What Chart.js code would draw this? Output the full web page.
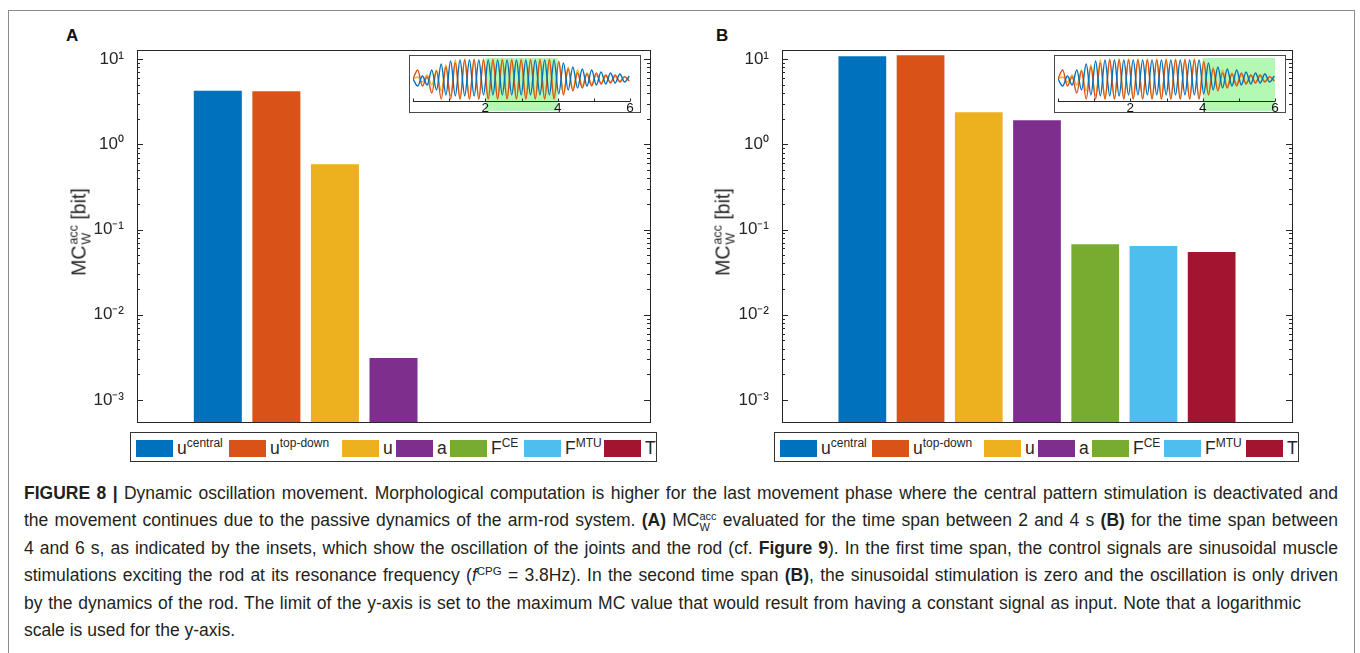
<!DOCTYPE html>
<html lang="en">
<head>
<meta charset="UTF-8">
<title>Figure 8</title>
<script src="https://cdn.jsdelivr.net/npm/chart.js"></script>
<style>
  body { margin: 0; width: 1360px; height: 653px; background: #fff; position: relative; overflow: hidden;
         font-family: "Liberation Sans", Arial, sans-serif; color: #262626; }
  .frame { position: absolute; left: 8px; top: 10px; width: 1345px; height: 660px; border: 1px solid #8c8c8c; }
  .abs { position: absolute; }
  .panel-letter { font-weight: bold; font-size: 17px; color: #111; }
  .ytitle { font-size: 19.5px; white-space: nowrap; transform: translate(-50%, -50%) rotate(-90deg); }
  .ss { display: inline-flex; flex-direction: column; font-size: 12.5px; line-height: 1; vertical-align: 8px; margin-left: 1px; }
  .inset { border: 1px solid #4a4a4a; background: #fff; box-sizing: border-box; }
  .legend { border: 1px solid #333; height: 30px; box-sizing: border-box; background: #fff; }
  .legend .item { position: absolute; top: 5px; height: 20px; display: flex; align-items: center; white-space: nowrap; }
  .legend .sw { width: 37px; height: 17px; }
  .legend .lab { margin-left: 4px; font-size: 17.5px; line-height: 20px; }
  .legend .lab sup { font-size: 12px; vertical-align: 7px; line-height: 0; }
  .caption { position: absolute; left: 24px; top: 480px; width: 1314px; font-size: 17.5px; line-height: 27.4px; color: #231f20; }
  .caption .ln { height: 27.4px; white-space: nowrap; text-align: justify; text-align-last: justify; }
  .caption .ln.last { text-align: left; text-align-last: left; }
  .caption sup { font-size: 11.5px; line-height: 0; vertical-align: 6px; }
  .caption .cs { display: inline-flex; flex-direction: column; font-size: 11px; line-height: 1; vertical-align: 6px; }
</style>
</head>
<body>
<div class="frame"></div>

<div class="abs panel-letter" style="left:66px; top:26px;">A</div>
<div class="abs panel-letter" style="left:716px; top:26px;">B</div>

<div class="abs" style="left:40px; top:40px; width:620px; height:392px;"><canvas id="chartA"></canvas></div>
<div class="abs" style="left:685px; top:40px; width:617px; height:392px;"><canvas id="chartB"></canvas></div>

<div class="abs ytitle" style="left:80px; top:232px;">MC<span class="ss"><span>acc</span><span>W</span></span> [bit]</div>
<div class="abs ytitle" style="left:724px; top:232px;">MC<span class="ss"><span>acc</span><span>W</span></span> [bit]</div>

<div class="abs inset" style="left:409px; top:55px; width:232px; height:58px;"></div>
<div class="abs" style="left:410px; top:56px; width:230px; height:62px;"><canvas id="insetA"></canvas></div>
<div class="abs inset" style="left:1054px; top:55px; width:232px; height:58px;"></div>
<div class="abs" style="left:1055px; top:56px; width:230px; height:62px;"><canvas id="insetB"></canvas></div>

<div class="abs legend" id="legendA" style="left:130px; top:432px; width:527px;"></div>
<div class="abs legend" id="legendB" style="left:774px; top:432px; width:525px;"></div>

<div class="caption">
  <div class="ln"><b>FIGURE 8 |</b> Dynamic oscillation movement. Morphological computation is higher for the last movement phase where the central pattern stimulation is deactivated and</div>
  <div class="ln">the movement continues due to the passive dynamics of the arm-rod system. <b>(A)</b> MC<span class="cs"><span>acc</span><span>W</span></span> evaluated for the time span between 2 and 4 s <b>(B)</b> for the time span between</div>
  <div class="ln">4 and 6 s, as indicated by the insets, which show the oscillation of the joints and the rod (cf. <b>Figure 9</b>). In the first time span, the control signals are sinusoidal muscle</div>
  <div class="ln">stimulations exciting the rod at its resonance frequency (<i>f</i><sup>CPG</sup> = 3.8Hz). In the second time span <b>(B)</b>, the sinusoidal stimulation is zero and the oscillation is only driven</div>
  <div class="ln" style="width:1277px;">by the dynamics of the rod. The limit of the y-axis is set to the maximum MC value that would result from having a constant signal as input. Note that a logarithmic</div>
  <div class="ln last">scale is used for the y-axis.</div>
</div>

<script>
    // bar data (bit)
    const categories = ['u', 'u', 'u', 'a', 'F', 'F', 'T'];
    const categorySup = ['central', 'top-down', '', '', 'CE', 'MTU', ''];
    const barColors = ['#0072BD', '#D95319', '#EDB120', '#7E2F8E', '#77AC30', '#4DBEEE', '#A2142F'];
    const valuesA = [4.25, 4.2, 0.585, 0.0031, null, null, null];
    const valuesB = [10.8, 11.1, 2.38, 1.92, 0.067, 0.064, 0.0545];
    const yExponents = [-3, -2, -1, 0, 1];
    const yMin = 5.5e-4;
    const yMax = 12.8;

    // inset: joint / rod oscillation, extrema
    const insetTime = [0, 0.13, 0.26, 0.39, 0.52, 0.65, 0.78, 0.91, 1.04, 1.17, 1.3, 1.43, 1.56, 1.69, 1.82, 1.95,
        2.08, 2.21, 2.34, 2.47, 2.6, 2.73, 2.86, 2.99, 3.12, 3.25, 3.38, 3.51, 3.64, 3.77, 3.9,
        4.03, 4.16, 4.29, 4.42, 4.55, 4.68, 4.81, 4.94, 5.07, 5.2, 5.33, 5.46, 5.59, 5.72, 5.85, 5.98];
    const insetBlue = [0, -0.35, 0.15, -0.3, 0.45, -0.55, 0.75, -0.8, 0.9, -0.85, 0.95, -0.85, 0.95, -0.85, 0.95, -0.8,
        0.95, -0.8, 0.95, -0.8, 0.95, -0.8, 0.95, -0.8, 0.95, -0.8, 0.95, -0.8, 0.95, -0.8, 0.95,
        -0.75, 0.8, -0.55, 0.6, -0.45, 0.5, -0.35, 0.45, -0.3, 0.35, -0.25, 0.3, -0.2, 0.25, -0.15, 0.15];
    const insetOrange = [0, 0.45, -0.35, 0.1, -0.7, 0.4, -1, 0.6, -1, 0.8, -1, 0.95, -1, 0.95, -1, 0.95,
        -1, 0.95, -1, 0.95, -1, 0.95, -1, 0.95, -1, 0.95, -1, 0.95, -1, 0.95, -1,
        0.85, -0.8, 0.5, -0.6, 0.3, -0.45, 0.25, -0.35, 0.3, -0.25, 0.2, -0.2, 0.2, -0.15, 0.12, -0.1];
    const insetYellow = [0, 0.1, -0.15, 0.2, -0.3, 0.45, -0.6, 0.7, -0.85, 0.95, -1, 1, -1, 1, -1, 1,
        -1, 1, -1, 1, -1, 1, -1, 1, -1, 1, -1, 1, -1, 1, -1,
        0.9, -0.75, 0.6, -0.5, 0.45, -0.35, 0.3, -0.25, 0.2, -0.2, 0.15, -0.15, 0.12, -0.1, 0.1, -0.08];
    const insetTickLabels = [2, 4, 6];
    const spanA = [2, 4];
    const spanB = [4, 6];

    const AXIS_COLOR = '#262626';
    const supDigits = {'-': '\u207B', '0': '\u2070', '1': '\u00B9', '2': '\u00B2', '3': '\u00B3'};
    const toSup = n => String(n).split('').map(c => supDigits[c]).join('');

    // matlab style box with inward ticks on both sides
    const boxPlugin = {
        id: 'boxPlugin',
        afterDatasetsDraw(chart) {
            const {ctx, chartArea: a} = chart;
            const y = chart.scales.y;
            ctx.save();
            ctx.strokeStyle = AXIS_COLOR;
            ctx.lineWidth = 1;
            ctx.strokeRect(Math.round(a.left) + 0.5, Math.round(a.top) + 0.5,
                Math.round(a.right - a.left), Math.round(a.bottom - a.top));
            ctx.beginPath();
            y.ticks.forEach(t => {
                const py = Math.round(y.getPixelForValue(t.value)) + 0.5;
                const len = t.major ? 6 : 3;
                ctx.moveTo(a.left, py); ctx.lineTo(a.left + len, py);
                ctx.moveTo(a.right, py); ctx.lineTo(a.right - len, py);
            });
            ctx.stroke();
            ctx.restore();
        }
    };

    function makeBarChart(id, values) {
        const points = values.map((v, i) => ({x: i, y: v}));
        return new Chart(document.getElementById(id), {
            type: 'bar',
            data: {
                datasets: [{
                    data: points,
                    backgroundColor: barColors,
                    borderWidth: 0,
                    barPercentage: 0.82,
                    categoryPercentage: 1
                }]
            },
            options: {
                responsive: true,
                maintainAspectRatio: false,
                animation: false,
                layout: {padding: {top: 10, right: 10, bottom: 10, left: 0}},
                plugins: {legend: {display: false}, tooltip: {enabled: false}},
                scales: {
                    x: {type: 'linear', min: -1.38, max: 7.38, offset: false, display: false},
                    y: {
                        type: 'logarithmic',
                        min: yMin,
                        max: yMax,
                        afterFit: s => { s.width = 97; s.paddingTop = 0; s.paddingBottom = 0; },
                        afterBuildTicks: s => {
                            const ticks = [];
                            yExponents.forEach(e => {
                                for (let m = 1; m <= 9; m++) {
                                    const v = m * Math.pow(10, e);
                                    if (v >= yMin && v <= yMax) ticks.push({value: v, major: m === 1});
                                }
                            });
                            s.ticks = ticks;
                        },
                        grid: {display: false},
                        border: {display: false},
                        ticks: {
                            autoSkip: false,
                            padding: 5,
                            color: AXIS_COLOR,
                            font: {family: 'Liberation Sans', size: 17},
                            callback: (v, i, ticks) => {
                                const e = Math.round(Math.log10(v));
                                return ticks[i].major ? '10' + toSup(e) : '';
                            }
                        }
                    }
                }
            },
            plugins: [boxPlugin]
        });
    }

    function makeInset(id, span) {
        const series = [
            {data: insetBlue, color: '#0072BD'},
            {data: insetOrange, color: '#D95319'},
            {data: insetYellow, color: '#EDB120'}
        ];
        const shade = {
            id: 'shade',
            beforeDatasetsDraw(chart) {
                const {ctx, chartArea: a} = chart;
                const x = chart.scales.x;
                const x0 = x.getPixelForValue(span[0]);
                const x1 = x.getPixelForValue(span[1]);
                ctx.save();
                ctx.fillStyle = '#b3f8b3';
                ctx.fillRect(x0, a.top, x1 - x0, 55 - a.top);
                ctx.restore();
            },
            afterDatasetsDraw(chart) {
                const {ctx, chartArea: a} = chart;
                const x = chart.scales.x;
                ctx.save();
                ctx.strokeStyle = AXIS_COLOR;
                ctx.lineWidth = 1;
                ctx.beginPath();
                const yb = Math.round(a.bottom) + 0.5;
                ctx.moveTo(x.getPixelForValue(0), yb);
                ctx.lineTo(x.getPixelForValue(6), yb);
                x.ticks.forEach(t => {
                    const px = Math.round(x.getPixelForValue(t.value)) + 0.5;
                    ctx.moveTo(px, yb); ctx.lineTo(px, yb - 3);
                });
                ctx.stroke();
                // tick labels under the inset axis
                ctx.fillStyle = '#111';
                ctx.font = '13.5px "Liberation Sans"';
                ctx.textAlign = 'center';
                ctx.textBaseline = 'top';
                insetTickLabels.forEach(v => {
                    ctx.fillText(String(v), x.getPixelForValue(v), a.bottom + 1);
                });
                ctx.restore();
            }
        };
        return new Chart(document.getElementById(id), {
            type: 'line',
            data: {
                datasets: series.map(s => ({
                    data: s.data.map((v, i) => ({x: insetTime[i], y: v})),
                    borderColor: s.color,
                    borderWidth: 1.4,
                    pointRadius: 0,
                    cubicInterpolationMode: 'monotone',
                    fill: false
                }))
            },
            options: {
                responsive: true,
                maintainAspectRatio: false,
                animation: false,
                layout: {padding: {top: 2, right: 10, bottom: 0, left: 3}},
                plugins: {legend: {display: false}, tooltip: {enabled: false}},
                scales: {
                    x: {
                        type: 'linear', min: 0, max: 6,
                        afterFit: s => { s.height = 17; s.paddingLeft = 0; s.paddingRight = 0; },
                        grid: {display: false},
                        border: {display: false},
                        ticks: {stepSize: 1, display: false}
                    },
                    y: {min: -1.1, max: 1.05, display: false}
                }
            },
            plugins: [shade]
        });
    }

    function buildLegend(id, lefts) {
        const box = document.getElementById(id);
        categories.forEach((c, i) => {
            const item = document.createElement('div');
            item.className = 'item';
            item.style.left = lefts[i] + 'px';
            const sw = document.createElement('div');
            sw.className = 'sw';
            sw.style.background = barColors[i];
            const lab = document.createElement('span');
            lab.className = 'lab';
            lab.textContent = c;
            if (categorySup[i]) {
                const sup = document.createElement('sup');
                sup.textContent = categorySup[i];
                lab.appendChild(sup);
            }
            item.appendChild(sw);
            item.appendChild(lab);
            box.appendChild(item);
        });
    }

    makeBarChart('chartA', valuesA);
    makeBarChart('chartB', valuesB);
    makeInset('insetA', spanA);
    makeInset('insetB', spanB);
    buildLegend('legendA', [5, 98, 211, 265, 319, 393, 473]);
    buildLegend('legendB', [5, 97, 209, 263, 317, 389, 471]);
</script>
</body>
</html>
